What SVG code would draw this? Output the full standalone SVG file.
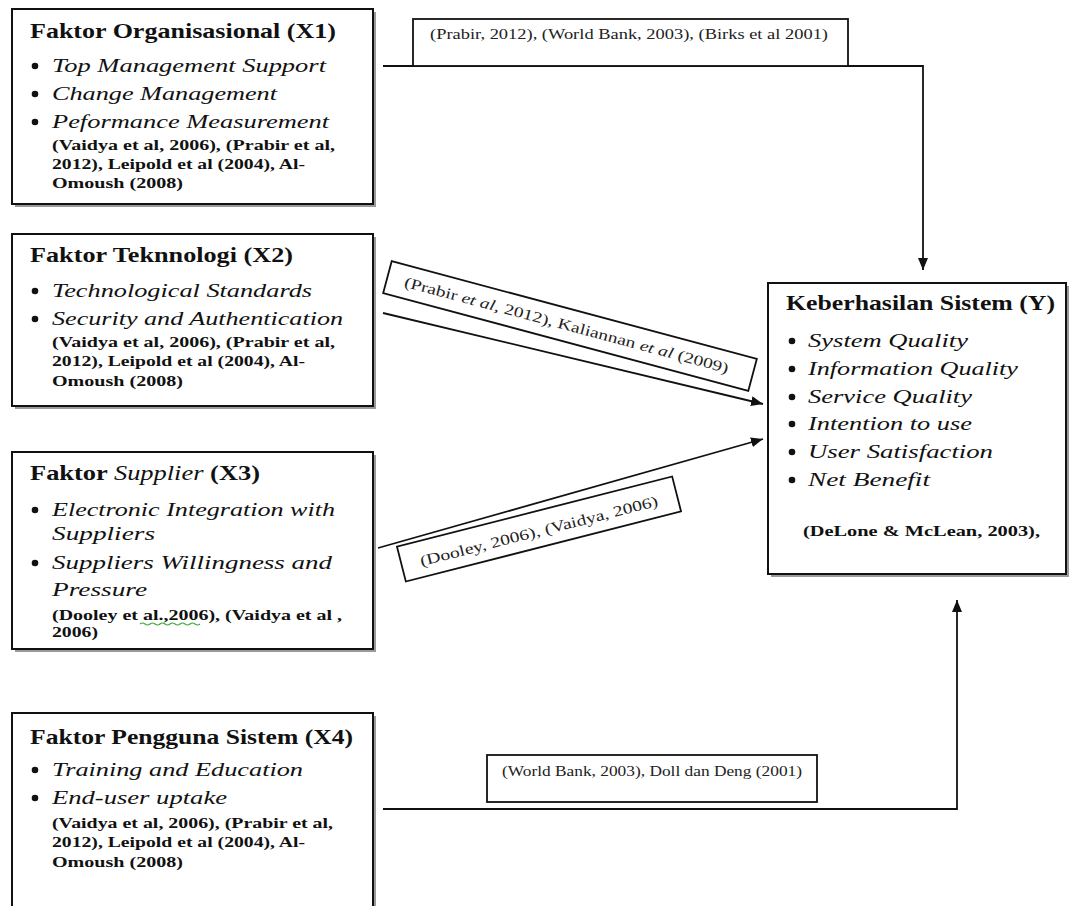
<svg xmlns="http://www.w3.org/2000/svg" width="1071" height="906" viewBox="0 0 1071 906">
<style>
.shadow{fill:#9a9a9a}
.box{fill:#fff;stroke:#111;stroke-width:2}
.lbl{fill:#fff;stroke:#111;stroke-width:1.8}
.title{font-family:"Liberation Serif",serif;font-weight:bold;font-size:21px;fill:#111}
.item{font-family:"Liberation Serif",serif;font-style:italic;font-size:19px;fill:#111}
.cite{font-family:"Liberation Serif",serif;font-weight:bold;font-size:15px;fill:#111}
.ltxt{font-family:"Liberation Serif",serif;font-size:15px;fill:#222}
.bul{fill:#111}
.conn{fill:none;stroke:#111;stroke-width:1.8}
</style>
<defs>
<marker id="arr" viewBox="0 0 12 10" refX="12" refY="5" markerWidth="12" markerHeight="10" orient="auto" markerUnits="userSpaceOnUse">
<path d="M0,0 L12,5 L0,10 z" fill="#111"/>
</marker>
</defs>

<g id="connectors">
<polyline class="conn" points="383,66 923,66 923,270" marker-end="url(#arr)"/>
<line class="conn" x1="383" y1="313" x2="763" y2="404" marker-end="url(#arr)"/>
<line class="conn" x1="378" y1="548" x2="763" y2="439" marker-end="url(#arr)"/>
<polyline class="conn" points="383,809 957,809 957,600" marker-end="url(#arr)"/>
<g id="label1">
<rect class="lbl" x="413" y="19" width="435" height="47"/>
<text class="ltxt" x="430" y="39" textLength="398" lengthAdjust="spacingAndGlyphs">(Prabir, 2012), (World Bank, 2003), (Birks et al 2001)</text>
</g>
<g id="label2" transform="translate(570,326) rotate(15)">
<rect class="lbl" x="-189" y="-16.5" width="378" height="33"/>
<text class="ltxt" x="-171" y="5" textLength="335" lengthAdjust="spacingAndGlyphs">(Prabir <tspan font-style="italic">et al,</tspan> 2012), Kaliannan <tspan font-style="italic">et al</tspan> (2009)</text>
</g>
<g id="label3" transform="translate(539,529) rotate(-14.3)">
<rect class="lbl" x="-142" y="-18" width="284" height="36"/>
<text class="ltxt" x="-123" y="7" textLength="245" lengthAdjust="spacingAndGlyphs">(Dooley, 2006), (Vaidya, 2006)</text>
</g>
<g id="label4">
<rect class="lbl" x="487" y="755" width="330" height="47"/>
<text class="ltxt" x="502" y="776" textLength="300" lengthAdjust="spacingAndGlyphs">(World Bank, 2003), Doll dan Deng (2001)</text>
</g>
</g>

<g id="x1">
<rect class="shadow" x="15" y="12" width="361" height="195"/>
<rect class="box" x="12" y="9" width="361" height="195"/>
<text class="title" x="30" y="38" textLength="306" lengthAdjust="spacingAndGlyphs">Faktor Organisasional (X1)</text>
<circle class="bul" cx="35" cy="66" r="3.3"/>
<text class="item" x="52" y="72" textLength="274" lengthAdjust="spacingAndGlyphs">Top Management Support</text>
<circle class="bul" cx="35" cy="94" r="3.3"/>
<text class="item" x="52" y="100" textLength="225" lengthAdjust="spacingAndGlyphs">Change Management</text>
<circle class="bul" cx="35" cy="122" r="3.3"/>
<text class="item" x="52" y="128" textLength="277" lengthAdjust="spacingAndGlyphs">Peformance Measurement</text>
<text class="cite" x="52" y="150" textLength="283" lengthAdjust="spacingAndGlyphs">(Vaidya et al, 2006), (Prabir et al,</text>
<text class="cite" x="52" y="169" textLength="253" lengthAdjust="spacingAndGlyphs">2012), Leipold et al (2004), Al-</text>
<text class="cite" x="52" y="188" textLength="131" lengthAdjust="spacingAndGlyphs">Omoush (2008)</text>
</g>

<g id="x2">
<rect class="shadow" x="15" y="237" width="361" height="172"/>
<rect class="box" x="12" y="234" width="361" height="172"/>
<text class="title" x="30" y="262" textLength="263" lengthAdjust="spacingAndGlyphs">Faktor Teknnologi (X2)</text>
<circle class="bul" cx="35" cy="291" r="3.3"/>
<text class="item" x="52" y="297" textLength="260" lengthAdjust="spacingAndGlyphs">Technological Standards</text>
<circle class="bul" cx="35" cy="319" r="3.3"/>
<text class="item" x="52" y="325" textLength="291" lengthAdjust="spacingAndGlyphs">Security and Authentication</text>
<text class="cite" x="52" y="347" textLength="283" lengthAdjust="spacingAndGlyphs">(Vaidya et al, 2006), (Prabir et al,</text>
<text class="cite" x="52" y="366" textLength="253" lengthAdjust="spacingAndGlyphs">2012), Leipold et al (2004), Al-</text>
<text class="cite" x="52" y="386" textLength="131" lengthAdjust="spacingAndGlyphs">Omoush (2008)</text>
</g>

<g id="x3">
<rect class="shadow" x="15" y="455" width="361" height="197"/>
<rect class="box" x="12" y="452" width="361" height="197"/>
<text class="title" x="30" y="480" textLength="230" lengthAdjust="spacingAndGlyphs">Faktor <tspan font-style="italic" font-weight="normal">Supplier</tspan> (X3)</text>
<circle class="bul" cx="35" cy="510" r="3.3"/>
<text class="item" x="52" y="516" textLength="283" lengthAdjust="spacingAndGlyphs">Electronic Integration with</text>
<text class="item" x="52" y="540" textLength="103" lengthAdjust="spacingAndGlyphs">Suppliers</text>
<circle class="bul" cx="35" cy="563" r="3.3"/>
<text class="item" x="52" y="569" textLength="280" lengthAdjust="spacingAndGlyphs">Suppliers Willingness and</text>
<text class="item" x="52" y="596" textLength="95" lengthAdjust="spacingAndGlyphs">Pressure</text>
<text class="cite" x="52" y="620" textLength="290" lengthAdjust="spacingAndGlyphs">(Dooley et al.,2006), (Vaidya et al ,</text>
<path d="M140,624 q2.5,-2 5,0 t5,0 t5,0 t5,0 t5,0 t5,0 t5,0 t5,0 t5,0 t5,0 t5,0 t5,0" fill="none" stroke="#3a3" stroke-width="1.2"/>
<text class="cite" x="52" y="637" textLength="46" lengthAdjust="spacingAndGlyphs">2006)</text>
</g>

<g id="x4">
<rect class="shadow" x="15" y="716" width="361" height="200"/>
<rect class="box" x="12" y="713" width="361" height="200"/>
<text class="title" x="30" y="744" textLength="323" lengthAdjust="spacingAndGlyphs">Faktor Pengguna Sistem (X4)</text>
<circle class="bul" cx="35" cy="770" r="3.3"/>
<text class="item" x="52" y="776" textLength="251" lengthAdjust="spacingAndGlyphs">Training and Education</text>
<circle class="bul" cx="35" cy="798" r="3.3"/>
<text class="item" x="52" y="804" textLength="175" lengthAdjust="spacingAndGlyphs">End-user uptake</text>
<text class="cite" x="52" y="828" textLength="281" lengthAdjust="spacingAndGlyphs">(Vaidya et al, 2006), (Prabir et al,</text>
<text class="cite" x="52" y="847" textLength="253" lengthAdjust="spacingAndGlyphs">2012), Leipold et al (2004), Al-</text>
<text class="cite" x="52" y="867" textLength="131" lengthAdjust="spacingAndGlyphs">Omoush (2008)</text>
</g>

<g id="y">
<rect class="shadow" x="771" y="286" width="298" height="291"/>
<rect class="box" x="768" y="283" width="298" height="291"/>
<text class="title" x="786" y="310" font-size="20" textLength="269" lengthAdjust="spacingAndGlyphs">Keberhasilan Sistem (Y)</text>
<circle class="bul" cx="792" cy="341" r="3.3"/>
<text class="item" x="808" y="347" textLength="160" lengthAdjust="spacingAndGlyphs">System Quality</text>
<circle class="bul" cx="792" cy="369" r="3.3"/>
<text class="item" x="808" y="375" textLength="210" lengthAdjust="spacingAndGlyphs">Information Quality</text>
<circle class="bul" cx="792" cy="397" r="3.3"/>
<text class="item" x="808" y="403" textLength="164" lengthAdjust="spacingAndGlyphs">Service Quality</text>
<circle class="bul" cx="792" cy="424" r="3.3"/>
<text class="item" x="808" y="430" textLength="164" lengthAdjust="spacingAndGlyphs">Intention to use</text>
<circle class="bul" cx="792" cy="452" r="3.3"/>
<text class="item" x="808" y="458" textLength="185" lengthAdjust="spacingAndGlyphs">User Satisfaction</text>
<circle class="bul" cx="792" cy="480" r="3.3"/>
<text class="item" x="808" y="486" textLength="122" lengthAdjust="spacingAndGlyphs">Net Benefit</text>
<text class="cite" x="803" y="536" textLength="237" lengthAdjust="spacingAndGlyphs">(DeLone &amp; McLean, 2003),</text>
</g>
</svg>
